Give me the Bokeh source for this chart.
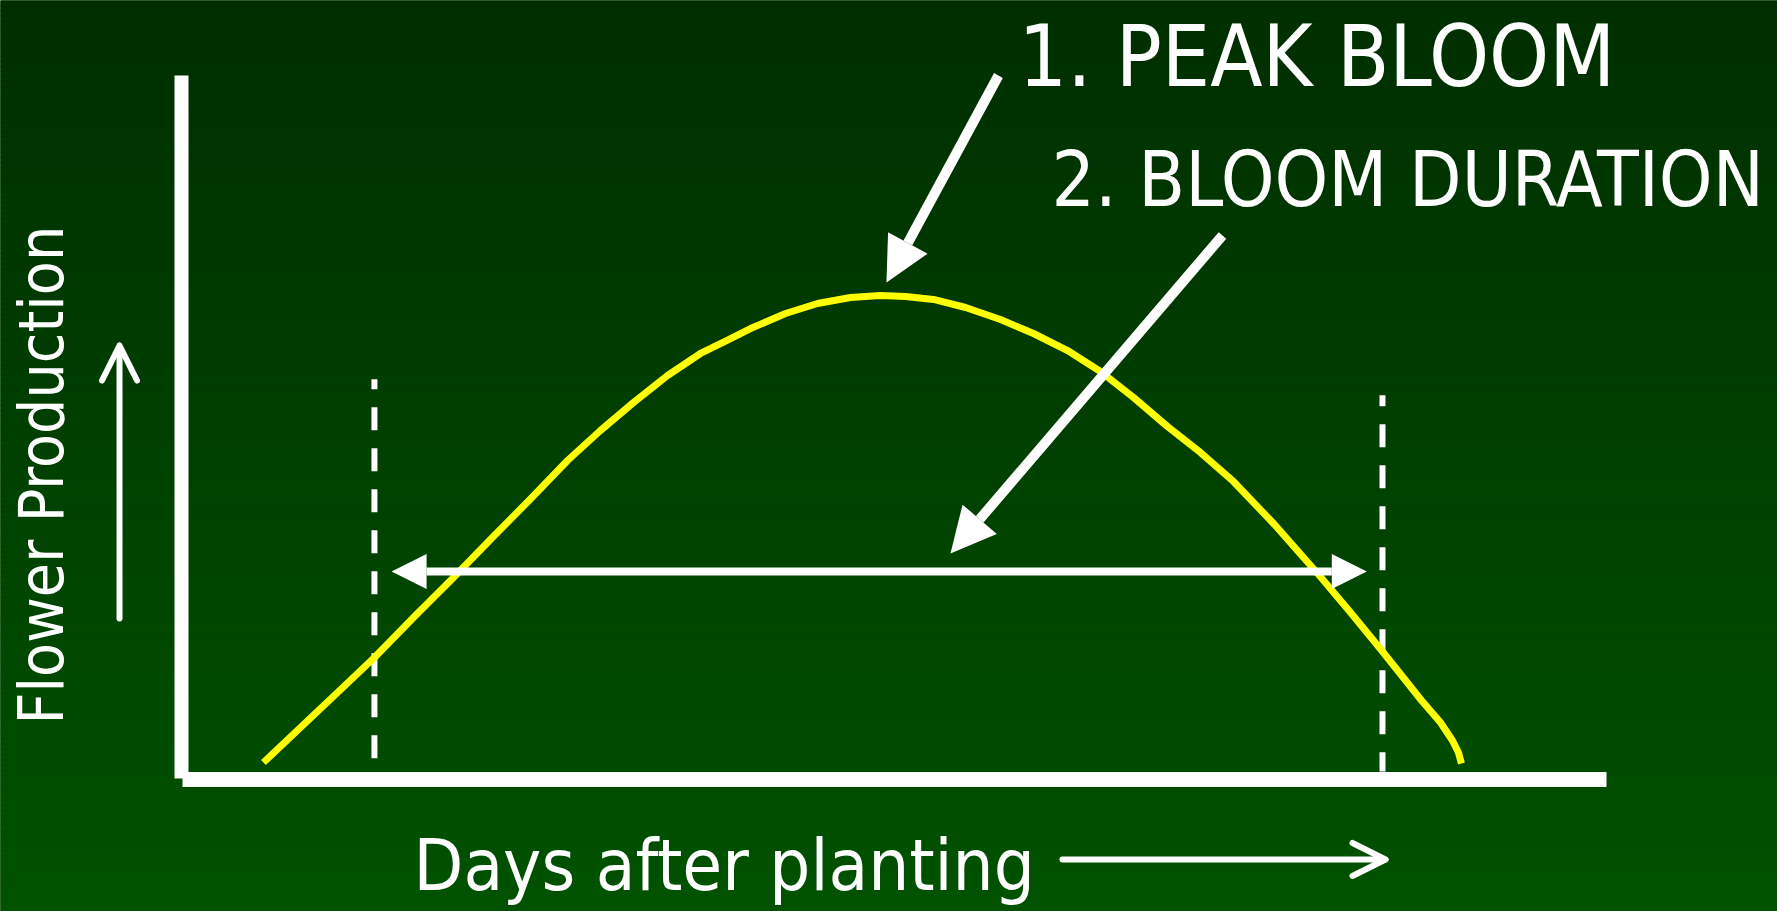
import numpy as np
from bokeh.plotting import figure
from bokeh.models import Range1d, Arrow, NormalHead, OpenHead
from bokeh.core.properties import value
from bokeh.embed import file_html
from bokeh.resources import INLINE

# ---------------- data ----------------
days = [5.75, 8.35, 10.95, 13.54, 16.28, 19.09, 21.68, 24.49, 27.09, 29.40, 31.72, 34.11,
        36.42, 38.18, 39.93, 42.39, 44.63, 46.95, 49.05, 50.81, 52.77, 55.02, 57.47,
        59.79, 62.18, 64.49, 66.81, 69.19, 71.51, 73.82, 76.70, 79.79, 82.04, 84.28,
        87.02, 88.35, 89.19, 89.61, 89.82]
production = [2.28, 7.25, 12.23, 17.21, 22.90, 28.59, 34.00, 39.76, 45.23, 49.50, 53.49, 57.33,
              60.46, 62.23, 64.01, 66.15, 67.57, 68.42, 68.71, 68.56, 68.14, 67.00, 65.29,
              63.30, 60.88, 57.89, 54.20, 50.07, 46.37, 42.25, 36.13, 29.02, 23.61, 18.07,
              11.10, 7.97, 5.41, 3.70, 2.13]
bloom_start = 13.54
bloom_end = 84.28
bloom_start_top = 56.8
bloom_end_top = 54.5
peak_day = 49.47
peak_value = 70.55

title_1 = "1. PEAK BLOOM"
title_2 = "2. BLOOM DURATION"
x_label = "Days after planting"
y_label = "Flower Production"

# ---------------- layout ----------------
W, H = 1777, 911
X0_PX, X_PER = 181.0, 14.25     # x=0 at this many px from the left
Y0_PX, Y_PER = 133.0, 7.03      # y=0 at this many px from the bottom

p = figure(width=W, height=H, output_backend="svg", toolbar_location=None,
           x_range=Range1d(-X0_PX / X_PER, (W - X0_PX) / X_PER),
           y_range=Range1d(-Y0_PX / Y_PER, (H - Y0_PX) / Y_PER),
           min_border=0)
p.axis.visible = False
p.grid.visible = False
p.outline_line_color = None
p.background_fill_color = "#004000"
p.border_fill_color = "#004000"

# vertical gradient background
ylo, yhi = p.y_range.start, p.y_range.end
n = 180
edges = np.linspace(ylo, yhi, n + 1)
top_c = np.array([0, 46, 0])
bot_c = np.array([0, 82, 0])
cols = []
for i in range(n):
    t = (i + 0.5) / n  # 0 bottom -> 1 top
    c = bot_c + (top_c - bot_c) * t
    cols.append("#%02x%02x%02x" % tuple(int(round(v)) for v in c))
p.quad(left=p.x_range.start, right=p.x_range.end, bottom=edges[:-1], top=edges[1:],
       fill_color=cols, line_color=cols, line_width=1)

# axes (thick white bars)
p.segment(x0=[0.0], y0=[0.0], x1=[0.0], y1=[100.0], line_color="white",
          line_width=14, line_cap="butt")
p.segment(x0=[0.07], y0=[-0.14], x1=[100.0], y1=[-0.14], line_color="white",
          line_width=15, line_cap="butt")

# dashed bloom start / end lines
p.segment(x0=[bloom_start], y0=[bloom_start_top], x1=[bloom_start], y1=[2.1],
          line_color="white", line_width=6, line_dash="23 18", line_dash_offset=13)
p.segment(x0=[bloom_end], y0=[bloom_end_top], x1=[bloom_end], y1=[1.0],
          line_color="white", line_width=6, line_dash="23 18", line_dash_offset=12)

# flower production curve
p.line(days, production, line_color="#ffff00", line_width=7, line_join="round",
       line_cap="butt")

# double-headed bloom duration arrow
p.add_layout(Arrow(x_start=bloom_start + 1.2, y_start=29.45, x_end=bloom_end - 1.1, y_end=29.45,
                   line_color="white", line_width=8,
                   start=NormalHead(size=35, fill_color="white", line_color="white", line_width=0),
                   end=NormalHead(size=35, fill_color="white", line_color="white", line_width=0)))

# peak bloom pointer
p.add_layout(Arrow(x_start=57.33, y_start=100.0, x_end=peak_day, y_end=peak_value,
                   line_color="white", line_width=10,
                   end=NormalHead(size=45, fill_color="white", line_color="white", line_width=0)))

# bloom duration pointer
p.add_layout(Arrow(x_start=73.05, y_start=77.24, x_end=53.96, y_end=32.01,
                   line_color="white", line_width=10,
                   end=NormalHead(size=45, fill_color="white", line_color="white", line_width=0)))

# axis direction arrows
p.add_layout(Arrow(x_start=-4.35, y_start=22.76, x_end=-4.35, y_end=61.59,
                   line_color="white", line_width=6, line_cap="round",
                   end=OpenHead(size=35, line_color="white", line_width=6,
                                line_cap="round", line_join="round")))
p.add_layout(Arrow(x_start=61.82, y_start=-11.52, x_end=84.49, y_end=-11.52,
                   line_color="white", line_width=6, line_cap="round",
                   end=OpenHead(size=33, line_color="white", line_width=6,
                                line_cap="round", line_join="round")))

FONT = value("DejaVu Sans Condensed")
p.text(x=[58.74], y=[102.77], text=[title_1], text_font=FONT, text_font_size="85px",
       text_color="white", text_baseline="alphabetic", text_align="left")
p.text(x=[61.05], y=[85.17], text=[title_2], text_font=FONT, text_font_size="76px",
       text_color="white", text_baseline="alphabetic", text_align="left")
p.text(x=[16.28], y=[-12.29], text=[x_label], text_font=FONT, text_font_size="72px",
       text_color="white", text_baseline="alphabetic", text_align="left")
p.text(x=[-9.82], y=[7.68], text=[y_label], text_font=FONT, text_font_size="62px",
       text_color="white", text_baseline="alphabetic", text_align="left", angle=np.pi / 2)

open("out.html", "w").write(file_html(p, INLINE))
